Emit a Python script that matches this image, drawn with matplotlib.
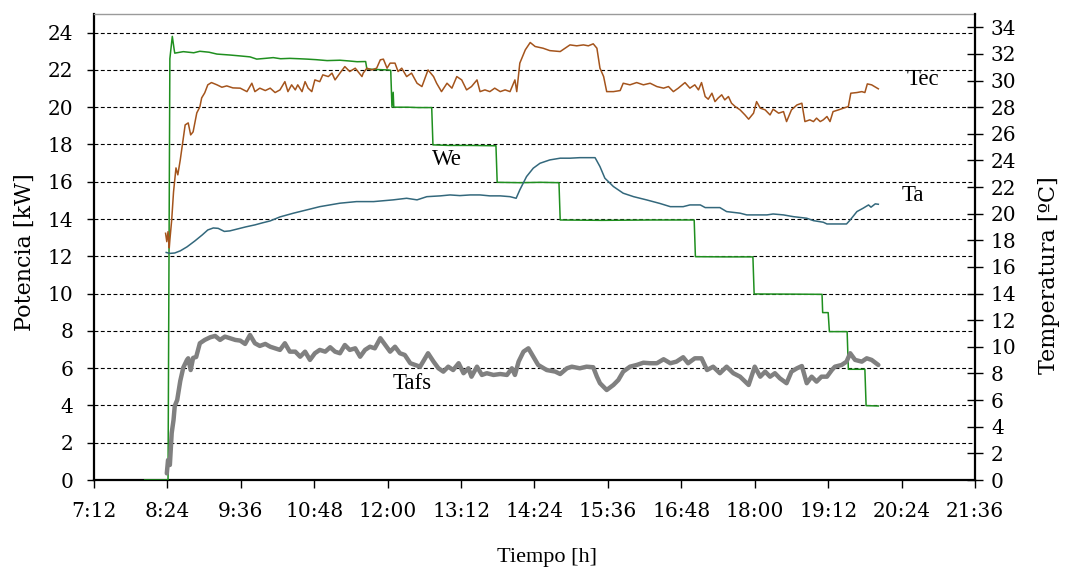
import matplotlib
matplotlib.use("Agg")
import matplotlib.pyplot as plt
from matplotlib.ticker import FixedLocator, FuncFormatter

# ---- Data (time in decimal hours) ----
we_t = [8.03, 8.41, 8.44, 8.48, 8.51, 8.52, 8.66, 8.83, 8.93, 9.08,
        9.21, 9.42, 9.59, 9.75, 9.86, 10.00, 10.13, 10.25, 10.40, 10.55,
        10.68, 10.83, 11.01, 11.22, 11.37, 11.50, 11.64, 11.66, 11.83, 12.00,
        12.05, 12.07, 12.09, 12.10, 12.33, 12.50, 12.72, 12.74, 13.00, 13.33,
        13.77, 13.79, 14.17, 14.50, 14.80, 14.82, 15.50, 16.33, 17.01, 17.03,
        17.50, 17.97, 17.99, 18.67, 19.10, 19.11, 19.20, 19.22, 19.51, 19.53,
        19.80, 19.82, 20.02]
we_kw = [0.0, 0.0, 22.6, 23.8, 23.1, 22.9, 22.98, 22.92, 23.0, 22.95,
         22.85, 22.8, 22.75, 22.7, 22.58, 22.62, 22.66, 22.6, 22.62, 22.6,
         22.58, 22.55, 22.5, 22.52, 22.48, 22.44, 22.45, 22.05, 22.02, 22.0,
         21.98, 20.0, 20.8, 20.0, 20.0, 19.98, 19.98, 17.98, 17.95, 17.95,
         17.93, 15.97, 15.95, 15.97, 15.95, 13.95, 13.93, 13.95, 13.95, 11.98,
         11.97, 11.97, 9.98, 9.97, 9.96, 8.98, 8.98, 7.96, 7.96, 5.94,
         5.94, 3.99, 3.97]

tec_t = [8.37, 8.39, 8.41, 8.43, 8.44, 8.47, 8.50, 8.54, 8.57, 8.61,
         8.64, 8.69, 8.74, 8.78, 8.82, 8.88, 8.93, 8.96, 9.01, 9.06,
         9.12, 9.21, 9.29, 9.37, 9.47, 9.59, 9.70, 9.78, 9.83, 9.91,
         10.00, 10.08, 10.16, 10.24, 10.32, 10.37, 10.43, 10.49, 10.53, 10.60,
         10.65, 10.70, 10.76, 10.81, 10.89, 10.94, 11.03, 11.09, 11.14, 11.22,
         11.30, 11.38, 11.47, 11.58, 11.60, 11.66, 11.74, 11.82, 11.88, 11.93,
         11.99, 12.04, 12.12, 12.17, 12.23, 12.31, 12.39, 12.48, 12.56, 12.61,
         12.66, 12.75, 12.80, 12.88, 12.97, 13.05, 13.13, 13.21, 13.29, 13.37,
         13.46, 13.51, 13.59, 13.67, 13.75, 13.84, 13.92, 14.00, 14.08, 14.11,
         14.16, 14.25, 14.33, 14.41, 14.54, 14.65, 14.82, 14.90, 14.98, 15.09,
         15.20, 15.28, 15.36, 15.42, 15.47, 15.53, 15.58, 15.69, 15.80, 15.85,
         15.96, 16.07, 16.18, 16.29, 16.40, 16.51, 16.59, 16.67, 16.75, 16.86,
         16.94, 17.02, 17.08, 17.13, 17.19, 17.24, 17.30, 17.35, 17.40, 17.46,
         17.51, 17.57, 17.62, 17.68, 17.76, 17.84, 17.90, 17.98, 18.03, 18.09,
         18.17, 18.25, 18.30, 18.39, 18.47, 18.52, 18.60, 18.69, 18.77, 18.82,
         18.90, 18.96, 19.01, 19.07, 19.12, 19.18, 19.23, 19.28, 19.37, 19.45,
         19.53, 19.57, 19.67, 19.75, 19.80, 19.84, 19.91, 20.02]
tec_c = [18.53, 17.90, 18.65, 17.43, 18.03, 19.53, 21.64, 23.44, 22.92, 24.04,
         25.02, 26.67, 26.82, 25.92, 26.15, 27.57, 28.02, 28.70, 29.08, 29.68,
         29.85, 29.68, 29.50, 29.60, 29.45, 29.43, 29.17, 29.80, 29.17, 29.43,
         29.25, 29.43, 29.10, 29.30, 29.92, 29.17, 29.68, 29.30, 29.68, 29.17,
         29.92, 29.43, 29.17, 30.05, 29.92, 30.43, 30.30, 30.56, 30.05, 30.56,
         31.05, 30.68, 30.93, 30.30, 30.56, 30.93, 30.80, 30.93, 31.56, 31.61,
         30.93, 31.31, 31.31, 30.68, 30.93, 30.30, 30.56, 29.80, 29.55, 30.18,
         30.80, 30.30, 29.80, 29.17, 29.80, 29.43, 30.30, 30.05, 29.30, 29.55,
         30.05, 29.17, 29.30, 29.17, 29.43, 29.17, 29.30, 29.17, 30.05, 29.17,
         31.31, 32.31, 32.86, 32.56, 32.43, 32.25, 32.18, 32.43, 32.68, 32.61,
         32.68, 32.61, 32.76, 32.43, 30.93, 30.30, 29.17, 29.17, 29.25, 29.80,
         29.68, 29.85, 29.68, 29.80, 29.55, 29.43, 29.55, 29.17, 29.43, 29.85,
         29.43, 29.68, 29.30, 29.85, 28.80, 28.60, 29.05, 28.42, 28.68, 28.93,
         28.55, 28.80, 28.30, 28.05, 27.80, 27.42, 27.10, 27.55, 28.42, 27.93,
         27.80, 27.42, 27.85, 27.55, 27.67, 26.92, 27.80, 28.17, 28.30, 26.92,
         27.05, 26.92, 27.18, 26.92, 27.05, 27.30, 26.92, 27.67, 27.80, 27.93,
         28.05, 29.05, 29.10, 29.17, 29.10, 29.75, 29.68, 29.38]

ta_t = [8.38, 8.44, 8.52, 8.61, 8.72, 8.85, 8.97, 9.06, 9.15, 9.23,
        9.33, 9.42, 9.55, 9.68, 9.83, 9.95, 10.08, 10.24, 10.46, 10.68,
        10.89, 11.22, 11.49, 11.77, 12.09, 12.31, 12.48, 12.64, 12.86, 13.02,
        13.18, 13.35, 13.51, 13.67, 13.84, 14.00, 14.10, 14.16, 14.27, 14.38,
        14.49, 14.65, 14.82, 14.98, 15.14, 15.31, 15.39, 15.47, 15.55, 15.69,
        15.85, 16.02, 16.23, 16.45, 16.62, 16.83, 16.94, 17.11, 17.19, 17.43,
        17.54, 17.76, 17.87, 18.20, 18.30, 18.47, 18.63, 18.85, 18.96, 19.12,
        19.18, 19.50, 19.56, 19.67, 19.77, 19.86, 19.90, 19.97, 20.02]
ta_c = [17.09, 17.02, 17.05, 17.21, 17.51, 17.96, 18.41, 18.78, 18.93, 18.90,
        18.67, 18.71, 18.86, 19.01, 19.16, 19.31, 19.46, 19.76, 20.04, 20.29,
        20.53, 20.79, 20.91, 20.91, 21.04, 21.16, 21.04, 21.28, 21.34, 21.41,
        21.36, 21.41, 21.41, 21.34, 21.34, 21.28, 21.16, 21.79, 22.79, 23.42,
        23.79, 24.04, 24.17, 24.17, 24.21, 24.21, 24.21, 23.54, 22.67, 22.04,
        21.54, 21.28, 21.04, 20.77, 20.53, 20.53, 20.66, 20.66, 20.46, 20.46,
        20.16, 20.04, 19.91, 19.91, 19.98, 19.91, 19.78, 19.66, 19.48, 19.36,
        19.23, 19.23, 19.53, 20.16, 20.41, 20.66, 20.49, 20.74, 20.71]

tafs_t = [8.39, 8.41, 8.44, 8.47, 8.50, 8.52, 8.56, 8.61, 8.66, 8.72,
          8.74, 8.78, 8.82, 8.87, 8.93, 9.01, 9.10, 9.18, 9.26, 9.34,
          9.42, 9.51, 9.59, 9.67, 9.75, 9.83, 9.91, 10.00, 10.08, 10.16,
          10.24, 10.32, 10.40, 10.49, 10.57, 10.65, 10.73, 10.81, 10.89, 10.98,
          11.06, 11.14, 11.22, 11.30, 11.38, 11.47, 11.55, 11.63, 11.71, 11.79,
          11.88, 11.96, 12.04, 12.12, 12.20, 12.28, 12.37, 12.45, 12.53, 12.61,
          12.66, 12.75, 12.83, 12.91, 12.99, 13.07, 13.16, 13.24, 13.32, 13.37,
          13.46, 13.54, 13.62, 13.73, 13.84, 13.95, 14.03, 14.08, 14.14, 14.22,
          14.30, 14.38, 14.46, 14.60, 14.74, 14.82, 14.93, 15.01, 15.14, 15.25,
          15.36, 15.42, 15.47, 15.58, 15.69, 15.77, 15.85, 15.96, 16.07, 16.18,
          16.29, 16.40, 16.51, 16.62, 16.72, 16.83, 16.91, 17.02, 17.13, 17.22,
          17.32, 17.43, 17.54, 17.65, 17.76, 17.90, 18.00, 18.09, 18.17, 18.25,
          18.33, 18.41, 18.52, 18.60, 18.69, 18.77, 18.85, 18.93, 19.01, 19.09,
          19.18, 19.26, 19.31, 19.42, 19.50, 19.56, 19.64, 19.75, 19.83, 19.91,
          20.02]
tafs_c = [0.50, 1.50, 1.13, 3.53, 4.51, 5.56, 6.01, 7.44, 8.45, 9.02,
          9.14, 8.26, 9.17, 9.24, 10.27, 10.52, 10.72, 10.82, 10.52, 10.77,
          10.65, 10.52, 10.47, 10.22, 10.89, 10.27, 10.07, 10.22, 10.01, 9.89,
          9.77, 10.27, 9.64, 9.64, 9.26, 9.64, 9.02, 9.52, 9.77, 9.64,
          9.97, 9.64, 9.52, 10.14, 9.77, 9.89, 9.26, 9.77, 10.01, 9.89,
          10.65, 10.14, 9.64, 10.01, 9.52, 9.39, 8.77, 8.64, 8.51, 9.14,
          9.52, 8.89, 8.39, 8.14, 8.51, 8.26, 8.77, 8.02, 8.39, 7.76,
          8.51, 7.89, 8.02, 7.89, 7.96, 7.89, 8.39, 7.89, 8.89, 9.64,
          9.89, 9.26, 8.64, 8.26, 8.14, 7.96, 8.39, 8.51, 8.39, 8.51,
          8.47, 7.76, 7.27, 6.76, 7.14, 7.51, 8.14, 8.51, 8.64, 8.81,
          8.77, 8.77, 9.07, 8.77, 8.89, 9.22, 8.77, 9.14, 9.14, 8.26,
          8.51, 8.02, 8.51, 8.02, 7.76, 7.14, 8.51, 7.76, 8.14, 7.76,
          8.02, 7.64, 7.27, 8.14, 8.39, 8.56, 7.27, 7.76, 7.39, 7.76,
          7.76, 8.26, 8.51, 8.64, 8.89, 9.52, 9.02, 8.89, 9.14, 9.02,
          8.64]

time_ticks = [7.2 + 1.2 * i for i in range(13)]
power_ticks = list(range(0, 25, 2))
temp_ticks = list(range(0, 35, 2))

# ---- Styling ----
tick_font = "DejaVu Serif"
note_font = "Liberation Serif"
C_WE = "#1f8f1f"
C_TEC = "#a4541c"
C_TA = "#33687c"
C_TAFS = "#808080"

fig = plt.figure(figsize=(10.65, 5.72), dpi=100)
ax = fig.add_axes([94 / 1065, 92 / 572, 881 / 1065, 466 / 572])
ax2 = ax.twinx()

ax.set_xlim(7.2, 21.6)
ax.set_ylim(0, 25)
ax2.set_ylim(0, 35)

# horizontal dashed grid at the power ticks
ax.yaxis.set_major_locator(FixedLocator(power_ticks))
ax.grid(axis="y", color="black", linestyle=(0, (3.5, 2.2)), linewidth=0.8)
ax.set_axisbelow(True)

ax.plot(we_t, we_kw, color=C_WE, lw=1.1, zorder=3)
ax2.plot(tafs_t, tafs_c, color=C_TAFS, lw=3.2, solid_joinstyle="round",
         solid_capstyle="round", zorder=3)
ax2.plot(ta_t, ta_c, color=C_TA, lw=1.1, zorder=4)
ax2.plot(tec_t, tec_c, color=C_TEC, lw=1.1, zorder=4)


def hhmm(v, pos=None):
    total = int(round(v * 60))
    return f"{total // 60}:{total % 60:02d}"


ax.xaxis.set_major_locator(FixedLocator(time_ticks))
ax.xaxis.set_major_formatter(FuncFormatter(hhmm))
ax2.yaxis.set_major_locator(FixedLocator(temp_ticks))

ax.tick_params(axis="x", direction="out", length=6, width=1, pad=10,
               labelsize=14.5, colors="black")
ax.tick_params(axis="y", direction="out", length=5, width=1, pad=10,
               labelsize=14.5)
ax2.tick_params(axis="y", direction="inout", length=11, width=1, pad=6,
                labelsize=14.5)
for lab in ax.get_xticklabels() + ax.get_yticklabels() + ax2.get_yticklabels():
    lab.set_family(tick_font)

for s in ("left", "bottom"):
    ax.spines[s].set_linewidth(1.6)
    ax.spines[s].set_color("black")
ax.spines["right"].set_visible(False)
ax.spines["top"].set_color("#9a9a9a")
ax.spines["top"].set_linewidth(1.0)
ax2.spines["right"].set_linewidth(1.6)
ax2.spines["right"].set_color("black")
ax2.spines["top"].set_visible(False)
ax2.spines["left"].set_visible(False)
ax2.spines["bottom"].set_visible(False)

ax.set_ylabel("Potencia [kW]", family=tick_font, fontsize=16)
ax.yaxis.set_label_coords(-0.066, 0.49)
ax2.set_ylabel("Temperatura [ºC]", family=tick_font, fontsize=16)
ax2.yaxis.set_label_coords(1.072, 0.44)
ax.set_xlabel("Tiempo [h]", family=note_font, fontsize=16)
ax.xaxis.set_label_coords(0.514, -0.145)

# series names placed next to their curves
for name, tx, ty in [("Tec", 20.75, 21.5), ("We", 12.97, 17.2),
                     ("Ta", 20.59, 15.25), ("Tafs", 12.40, 5.2)]:
    ax.text(tx, ty, name, family=note_font, fontsize=16.5, ha="center",
            va="center", zorder=6)

fig.savefig("out.png", dpi=100)
